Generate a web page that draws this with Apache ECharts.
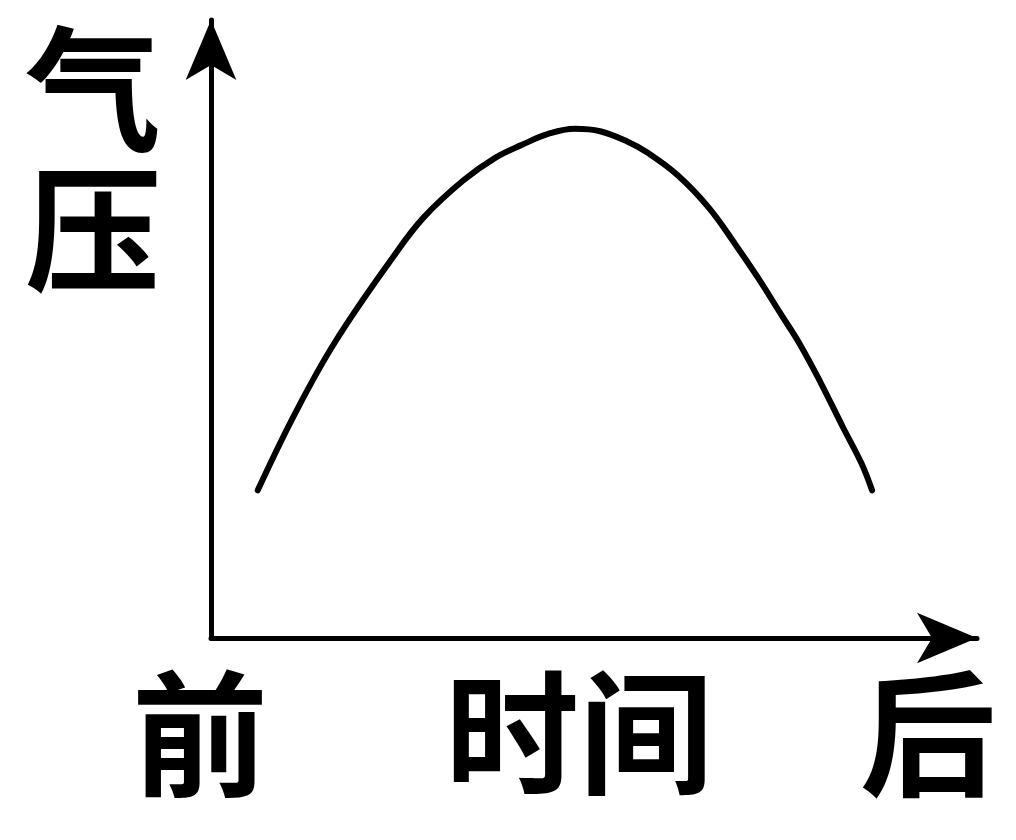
<!DOCTYPE html>
<html>
<head>
<meta charset="utf-8">
<script src="https://cdn.jsdelivr.net/npm/echarts@6/dist/echarts.min.js"></script>
<style>
html,body{margin:0;padding:0;background:#fff;}
#main{width:1016px;height:840px;}
</style>
</head>
<body>
<div id="main"></div>
<script>
// 时间(0-100) 与 气压(0-100) 的示意曲线
var timeVals=[6.1,11.0,16.2,23.8,27.8,33.0,37.1,40.6,44.1,47.5,50.8,54.4,56.9,61.0,65.0,68.5,71.4,74.4,76.8,79.6,82.5,84.9,86.3];
var pressVals=[23.9,36.4,47.9,61.7,68.1,74.1,77.7,79.8,81.6,82.4,82.0,80.3,78.6,74.8,69.6,63.6,58.3,52.4,47.7,41.3,34.1,28.3,23.9];
var xTickLabels=['前','后'];
var xName='时间';
var yName='气\n压';

var font='"Noto Sans CJK SC"';
var pts=[];
for(var i=0;i<timeVals.length;i++) pts.push([timeVals[i],pressVals[i]]);

var myChart=echarts.init(document.getElementById('main'));
var option={
  backgroundColor:'#fff',
  animation:false,
  grid:{left:211,right:39,top:20,bottom:202,containLabel:false,outerBoundsMode:'none'},
  xAxis:{
    type:'value',min:0,max:100,interval:100,
    name:xName,nameLocation:'middle',nameGap:28,nameMoveOverlap:false,
    nameTextStyle:{fontFamily:font,fontSize:134,fontWeight:'bold',color:'#000',padding:[0,30,0,0]},
    axisLine:{onZero:false,symbol:['none','arrow'],symbolSize:[38,60],lineStyle:{color:'#000',width:5}},
    axisTick:{show:false},splitLine:{show:false},
    axisLabel:{
      margin:28,hideOverlap:false,
      formatter:function(v){
        if(v==0) return '{a|'+xTickLabels[0]+'}';
        return '{b|'+xTickLabels[1]+'}';
      },
      rich:{
        a:{fontFamily:font,fontSize:136,fontWeight:'bold',color:'#000',padding:[0,22,0,0]},
        b:{fontFamily:font,fontSize:136,fontWeight:'bold',color:'#000',padding:[0,98,0,0]}
      }
    }
  },
  yAxis:{
    type:'value',min:0,max:100,
    name:yName,nameLocation:'end',nameGap:1,
    nameTextStyle:{fontFamily:font,fontSize:136,fontWeight:'bold',color:'#000',
      align:'right',verticalAlign:'top',lineHeight:140,padding:[0,50,0,0]},
    axisLine:{onZero:false,symbol:['none','arrow'],symbolSize:[38,60],lineStyle:{color:'#000',width:5}},
    axisTick:{show:false},axisLabel:{show:false},splitLine:{show:false}
  },
  series:[{
    type:'line',data:pts,smooth:0.4,showSymbol:false,
    lineStyle:{color:'#000',width:6,cap:'round'}
  }]
};
myChart.setOption(option);
</script>
</body>
</html>
